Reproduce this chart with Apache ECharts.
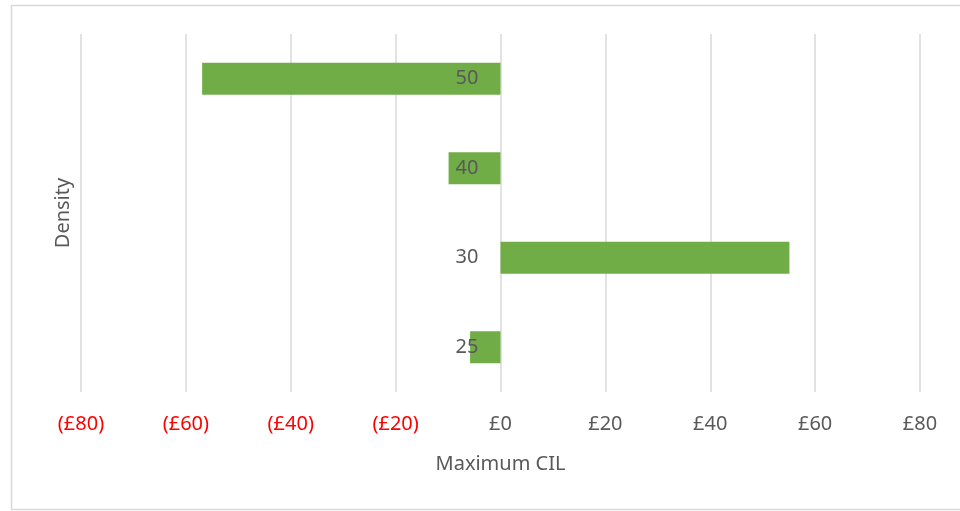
<!DOCTYPE html>
<html>
<head>
<meta charset="utf-8">
<script src="https://cdn.jsdelivr.net/npm/echarts@6/dist/echarts.min.js"></script>
<style>
    html, body { margin: 0; padding: 0; background: #fff; }
    #cil_chart { width: 960px; height: 511px; }
</style>
</head>
<body>
<div id="cil_chart"></div>
<script>
// densities, bottom to top
const densities = ['25', '30', '40', '50'];
const maxCil = [-5.8, 55.1, -9.9, -56.9];
const xTicks = [-80, -60, -40, -20, 0, 20, 40, 60, 80];

const textColor = '#595959';
const fontFamily = 'Noto Sans, sans-serif';
const gridLeft = 81, gridRight = 40;
// category labels sit next to the zero line, like Excel's "next to axis"
const zeroOffset = (960 - gridLeft - gridRight) / 2;

const option = {
    backgroundColor: '#fff',
    animation: false,
    graphic: [{
        type: 'rect',
        shape: {x: 11.5, y: 5.5, width: 960, height: 504},
        style: {fill: 'none', stroke: '#d9d9d9', lineWidth: 1.5}
    }],
    grid: {left: gridLeft, right: gridRight, top: 34, bottom: 119, outerBoundsMode: 'none', containLabel: false},
    xAxis: {
        type: 'value',
        min: xTicks[0],
        max: xTicks[xTicks.length - 1],
        interval: 20,
        name: 'Maximum CIL',
        nameLocation: 'middle',
        nameGap: 62,
        nameTextStyle: {color: textColor, fontSize: 20, fontFamily: fontFamily},
        axisLine: {show: false},
        axisTick: {show: false},
        splitLine: {lineStyle: {color: '#d9d9d9', width: 1.5}},
        axisLabel: {
            margin: 22,
            fontSize: 20,
            fontFamily: fontFamily,
            color: function (v) {
                return v < 0 ? '#ff0000' : textColor;
            },
            formatter: function (v) {
                return v < 0 ? '(£' + (-v) + ')' : '£' + v;
            }
        }
    },
    yAxis: {
        type: 'category',
        data: densities,
        z: 10,
        offset: -zeroOffset,
        name: 'Density',
        nameLocation: 'middle',
        nameGap: 427,
        nameTextStyle: {color: textColor, fontSize: 20, fontFamily: fontFamily},
        axisLine: {show: false},
        axisTick: {show: false},
        splitLine: {show: false},
        axisLabel: {
            margin: 22,
            fontSize: 20,
            fontFamily: fontFamily,
            color: textColor
        }
    },
    series: [{
        type: 'bar',
        data: maxCil,
        barWidth: 32,
        itemStyle: {color: '#70ad47'}
    }]
};

let chart = echarts.init(document.getElementById('cil_chart'));
chart.setOption(option);
</script>
</body>
</html>
